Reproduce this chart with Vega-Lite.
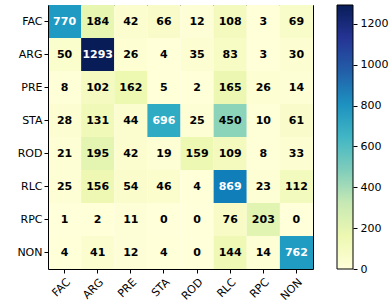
{
  "$schema": "https://vega.github.io/schema/vega-lite/v6.json",
  "padding": {"left": 16, "top": 4, "right": 2, "bottom": 2},
  "config": {
    "font": "DejaVu Sans",
    "view": {"stroke": null}
  },
  "spacing": 23,
  "resolve": {"scale": {"y": "independent", "color": "independent"}},
  "hconcat": [
    {
      "width": 265,
      "height": 264,
      "data": {"values": [
        {"t":"FAC","p":"FAC","v":770},{"t":"FAC","p":"ARG","v":184},{"t":"FAC","p":"PRE","v":42},{"t":"FAC","p":"STA","v":66},{"t":"FAC","p":"ROD","v":12},{"t":"FAC","p":"RLC","v":108},{"t":"FAC","p":"RPC","v":3},{"t":"FAC","p":"NON","v":69},
        {"t":"ARG","p":"FAC","v":50},{"t":"ARG","p":"ARG","v":1293},{"t":"ARG","p":"PRE","v":26},{"t":"ARG","p":"STA","v":4},{"t":"ARG","p":"ROD","v":35},{"t":"ARG","p":"RLC","v":83},{"t":"ARG","p":"RPC","v":3},{"t":"ARG","p":"NON","v":30},
        {"t":"PRE","p":"FAC","v":8},{"t":"PRE","p":"ARG","v":102},{"t":"PRE","p":"PRE","v":162},{"t":"PRE","p":"STA","v":5},{"t":"PRE","p":"ROD","v":2},{"t":"PRE","p":"RLC","v":165},{"t":"PRE","p":"RPC","v":26},{"t":"PRE","p":"NON","v":14},
        {"t":"STA","p":"FAC","v":28},{"t":"STA","p":"ARG","v":131},{"t":"STA","p":"PRE","v":44},{"t":"STA","p":"STA","v":696},{"t":"STA","p":"ROD","v":25},{"t":"STA","p":"RLC","v":450},{"t":"STA","p":"RPC","v":10},{"t":"STA","p":"NON","v":61},
        {"t":"ROD","p":"FAC","v":21},{"t":"ROD","p":"ARG","v":195},{"t":"ROD","p":"PRE","v":42},{"t":"ROD","p":"STA","v":19},{"t":"ROD","p":"ROD","v":159},{"t":"ROD","p":"RLC","v":109},{"t":"ROD","p":"RPC","v":8},{"t":"ROD","p":"NON","v":33},
        {"t":"RLC","p":"FAC","v":25},{"t":"RLC","p":"ARG","v":156},{"t":"RLC","p":"PRE","v":54},{"t":"RLC","p":"STA","v":46},{"t":"RLC","p":"ROD","v":4},{"t":"RLC","p":"RLC","v":869},{"t":"RLC","p":"RPC","v":23},{"t":"RLC","p":"NON","v":112},
        {"t":"RPC","p":"FAC","v":1},{"t":"RPC","p":"ARG","v":2},{"t":"RPC","p":"PRE","v":11},{"t":"RPC","p":"STA","v":0},{"t":"RPC","p":"ROD","v":0},{"t":"RPC","p":"RLC","v":76},{"t":"RPC","p":"RPC","v":203},{"t":"RPC","p":"NON","v":0},
        {"t":"NON","p":"FAC","v":4},{"t":"NON","p":"ARG","v":41},{"t":"NON","p":"PRE","v":12},{"t":"NON","p":"STA","v":4},{"t":"NON","p":"ROD","v":0},{"t":"NON","p":"RLC","v":144},{"t":"NON","p":"RPC","v":14},{"t":"NON","p":"NON","v":762}
      ]},
      "resolve": {"axis": {"x": "independent", "y": "independent"}},
      "layer": [
        {"mark": {"type": "rect"},
         "encoding": {
           "x": {"field": "p", "type": "nominal", "sort": ["FAC","ARG","PRE","STA","ROD","RLC","RPC","NON"],
             "scale": {"paddingInner": 0, "paddingOuter": 0},
             "axis": {"title": null, "labelAngle": -45, "labelAlign": "right", "labelBaseline": "top", "labelFontSize": 11, "labelColor": "black", "tickColor": "black", "tickSize": 4, "domain": true, "domainColor": "black", "labelPadding": 3}},
           "y": {"field": "t", "type": "nominal", "sort": ["FAC","ARG","PRE","STA","ROD","RLC","RPC","NON"],
             "scale": {"paddingInner": 0, "paddingOuter": 0},
             "axis": {"title": null, "labelFontSize": 11, "labelColor": "black", "tickColor": "black", "tickSize": 4, "domain": true, "domainColor": "black", "labelPadding": 2}},
           "color": {"field": "v", "type": "quantitative",
             "scale": {"domain": [0, 1293],
                       "range": ["#ffffd9","#edf8b1","#c7e9b4","#7fcdbb","#41b6c4","#1d91c0","#225ea8","#253494","#081d58"]},
             "legend": null}}},
        {"mark": {"type": "text", "fontWeight": "bold", "fontSize": 11},
         "encoding": {
           "x": {"field": "p", "type": "nominal", "sort": ["FAC","ARG","PRE","STA","ROD","RLC","RPC","NON"],
             "axis": {"orient": "top", "title": null, "labels": false, "ticks": false, "domain": true, "domainColor": "black"}},
           "y": {"field": "t", "type": "nominal", "sort": ["FAC","ARG","PRE","STA","ROD","RLC","RPC","NON"],
             "axis": {"orient": "right", "title": null, "labels": false, "ticks": false, "domain": true, "domainColor": "black"}},
           "text": {"field": "v", "type": "quantitative"},
           "color": {"condition": {"test": "datum.v > 640", "value": "white"}, "value": "black"}}}
      ]
    },
    {
      "width": 16,
      "height": 264,
      "data": {"values": [{"lo": 0, "hi": 1293}]},
      "mark": {"type": "rect", "stroke": "black", "strokeWidth": 1,
        "fill": {"gradient": "linear", "x1": 0, "y1": 1, "x2": 0, "y2": 0,
          "stops": [
            {"offset": 0, "color": "#ffffd9"}, {"offset": 0.125, "color": "#edf8b1"}, {"offset": 0.25, "color": "#c7e9b4"},
            {"offset": 0.375, "color": "#7fcdbb"}, {"offset": 0.5, "color": "#41b6c4"}, {"offset": 0.625, "color": "#1d91c0"},
            {"offset": 0.75, "color": "#225ea8"}, {"offset": 0.875, "color": "#253494"}, {"offset": 1, "color": "#081d58"}]}},
      "encoding": {
        "y": {"field": "lo", "type": "quantitative", "scale": {"domain": [0, 1293], "nice": false, "zero": false},
          "axis": {"orient": "right", "title": null, "values": [0,200,400,600,800,1000,1200], "format": "d",
            "labelFontSize": 11, "labelColor": "black", "tickColor": "black", "tickSize": 4, "domain": false, "grid": false, "labelPadding": 3}},
        "y2": {"field": "hi"}
      }
    }
  ]
}
